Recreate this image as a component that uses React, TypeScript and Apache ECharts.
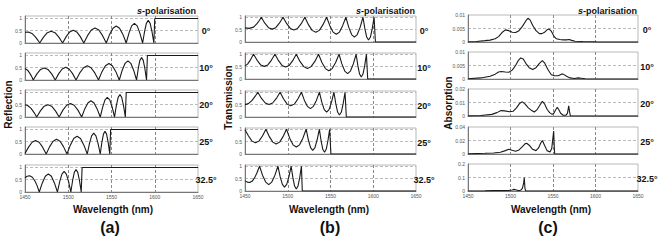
import React, { useEffect, useRef } from 'react';
import * as echarts from 'echarts';

// ---------- tick labels / categories ----------
const angleLabels = ['0°', '10°', '20°', '25°', '32.5°'];
const xTickLabels = ['1450', '1500', '1550', '1600', '1650'];
const yLabelsRT = ['0', '0.5', '1'];
const yLabelsAbs = [
  ['0', '0.005', '0.01'],
  ['0', '0.005', '0.01'],
  ['0', '0.01', '0.02'],
  ['0', '0.02', '0.04'],
  ['0', '0.1', '0.2'],
];
const absMax = [0.01, 0.01, 0.02, 0.04, 0.2];

// ---------- (a) Reflection ----------
const refl0 = [[1450,0.44],[1454,0.45],[1458,0.39],[1462,0.25],[1465,0.11],[1467,0],
[1471.4,0.24],[1475.8,0.42],[1480.2,0.48],[1484.7,0.42],[1489.1,0.24],[1493.5,0],
[1497.6,0.26],[1501.7,0.45],[1505.8,0.52],[1509.8,0.45],[1513.9,0.26],[1518,0],
[1522.3,0.3],[1526.7,0.53],[1531,0.61],[1535.3,0.53],[1539.7,0.3],[1544,0],
[1547.8,0.35],[1551.7,0.6],[1555.5,0.69],[1559.3,0.6],[1563.2,0.35],[1567,0],
[1570.2,0.4],[1573.3,0.7],[1576.5,0.8],[1579.7,0.7],[1582.8,0.4],[1586,0],
[1588.2,0.46],[1590.3,0.8],[1592.5,0.92],[1594.7,0.8],[1596.8,0.46],[1599,0],
[1600,1],[1650,1]];
const refl10 = [[1450,0.47],[1453,0.4],[1456,0.25],[1458,0.12],[1459.5,0],
[1463.8,0.25],[1468,0.43],[1472.2,0.49],[1476.5,0.43],[1480.8,0.25],[1485,0],
[1489,0.26],[1493,0.45],[1497,0.52],[1501,0.45],[1505,0.26],[1509,0],
[1513.3,0.29],[1517.7,0.5],[1522,0.58],[1526.3,0.5],[1530.7,0.29],[1535,0],
[1539,0.34],[1543,0.58],[1547,0.67],[1551,0.58],[1555,0.34],[1559,0],
[1562.3,0.39],[1565.7,0.68],[1569,0.78],[1572.3,0.68],[1575.7,0.39],[1579,0],
[1580.9,0.46],[1582.8,0.8],[1584.8,0.92],[1586.7,0.8],[1588.6,0.46],[1590.5,0],
[1591.5,1],[1650,1]];
const refl20 = [[1450,0.5],[1453,0.47],[1457,0.35],[1460.5,0.18],[1463.5,0],
[1467.8,0.25],[1472.2,0.44],[1476.5,0.5],[1480.8,0.44],[1485.2,0.25],[1489.5,0],
[1493.8,0.28],[1498.2,0.48],[1502.5,0.55],[1506.8,0.48],[1511.2,0.28],[1515.5,0],
[1519.1,0.33],[1522.7,0.57],[1526.2,0.66],[1529.8,0.57],[1533.4,0.33],[1537,0],
[1539.8,0.4],[1542.5,0.7],[1545.2,0.8],[1548,0.7],[1550.8,0.4],[1553.5,0],
[1555.6,0.46],[1557.7,0.8],[1559.8,0.92],[1561.8,0.8],[1563.9,0.46],[1566,0],
[1567,1],[1650,1]];
const refl25 = [[1450,0.02],[1454.1,0.28],[1458.2,0.48],[1462.2,0.55],[1466.3,0.48],[1470.4,0.28],[1474.5,0],
[1478.5,0.3],[1482.5,0.52],[1486.5,0.6],[1490.5,0.52],[1494.5,0.3],[1498.5,0],
[1502.4,0.36],[1506.3,0.63],[1510.2,0.72],[1514.2,0.63],[1518.1,0.36],[1522,0],
[1524.5,0.42],[1527,0.74],[1529.5,0.85],[1532,0.74],[1534.5,0.42],[1537,0],
[1538.8,0.46],[1540.7,0.81],[1542.5,0.93],[1544.3,0.81],[1546.2,0.46],[1548,0],
[1549,1],[1650,1]];
const refl32 = [[1450,0.58],[1452.5,0.64],[1455.5,0.66],[1458.5,0.6],[1461.5,0.45],[1464,0.26],[1466.5,0],
[1470,0.37],[1473.5,0.64],[1477,0.74],[1480.5,0.64],[1484,0.37],[1487.5,0],
[1490.1,0.42],[1492.7,0.73],[1495.2,0.84],[1497.8,0.73],[1500.4,0.42],[1503,0],
[1505,0.46],[1507,0.8],[1509,0.92],[1511,0.8],[1513,0.46],[1515,0],
[1516,1],[1650,1]];

// ---------- (b) Transmission ----------
const trans0 = [[1450,0.57],[1455,0.55],[1460,0.6],[1464,0.74],[1467,0.88],[1469,1],
[1473.2,0.76],[1477.5,0.58],[1481.8,0.52],[1486,0.58],[1490.2,0.76],[1494.5,1],
[1498.8,0.74],[1503,0.55],[1507.2,0.48],[1511.5,0.55],[1515.8,0.74],[1520,1],
[1524.2,0.7],[1528.5,0.47],[1532.8,0.39],[1537,0.47],[1541.2,0.7],[1545.5,1],
[1549.2,0.66],[1553,0.4],[1556.8,0.31],[1560.5,0.4],[1564.2,0.66],[1568,1],
[1571.3,0.6],[1574.7,0.3],[1578,0.2],[1581.3,0.3],[1584.7,0.6],[1588,1],
[1590.2,0.54],[1592.3,0.2],[1594.5,0.08],[1596.7,0.2],[1598.8,0.54],[1601,1],
[1602.5,0],[1650,0]];
const trans10 = [[1450,0.53],[1453,0.6],[1456,0.75],[1458,0.88],[1460,1],
[1464.2,0.755],[1468.3,0.57],[1472.5,0.51],[1476.7,0.57],[1480.8,0.755],[1485,1],
[1489.2,0.74],[1493.3,0.55],[1497.5,0.48],[1501.7,0.55],[1505.8,0.74],[1510,1],
[1514.3,0.71],[1518.7,0.5],[1523,0.42],[1527.3,0.5],[1531.7,0.71],[1536,1],
[1540,0.665],[1544,0.42],[1548,0.33],[1552,0.42],[1556,0.665],[1560,1],
[1563.3,0.61],[1566.7,0.32],[1570,0.22],[1573.3,0.32],[1576.7,0.61],[1580,1],
[1582,0.54],[1584,0.2],[1586,0.08],[1588,0.2],[1590,0.54],[1592,1],
[1593.5,0],[1650,0]];
const trans20 = [[1450,0.5],[1454,0.54],[1458,0.66],[1462,0.84],[1465,1],
[1469.3,0.75],[1473.7,0.565],[1478,0.5],[1482.3,0.565],[1486.7,0.75],[1491,1],
[1495.2,0.725],[1499.3,0.52],[1503.5,0.45],[1507.7,0.52],[1511.8,0.725],[1516,1],
[1519.5,0.67],[1523,0.43],[1526.5,0.34],[1530,0.43],[1533.5,0.67],[1537,1],
[1539.8,0.6],[1542.7,0.3],[1545.5,0.2],[1548.3,0.3],[1551.2,0.6],[1554,1],
[1556.2,0.54],[1558.3,0.2],[1560.5,0.08],[1562.7,0.2],[1564.8,0.54],[1567,1],
[1568.5,0],[1650,0]];
const trans25 = [[1450,0.98],[1454.1,0.725],[1458.2,0.52],[1462.2,0.45],[1466.3,0.52],[1470.4,0.725],[1474.5,1],
[1478.5,0.7],[1482.5,0.48],[1486.5,0.4],[1490.5,0.48],[1494.5,0.7],[1498.5,1],
[1502.3,0.64],[1506.2,0.37],[1510,0.28],[1513.8,0.37],[1517.7,0.64],[1521.5,1],
[1524.1,0.575],[1526.7,0.26],[1529.2,0.15],[1531.8,0.26],[1534.4,0.575],[1537,1],
[1539,0.535],[1541,0.19],[1543,0.07],[1545,0.19],[1547,0.535],[1549,1],
[1550.5,0],[1650,0]];
const trans32 = [[1450,0.42],[1452.5,0.36],[1455.5,0.34],[1458.5,0.4],[1461.5,0.55],[1464,0.74],[1467,1],
[1470.6,0.63],[1474.2,0.36],[1477.8,0.26],[1481.3,0.36],[1484.9,0.63],[1488.5,1],
[1491.1,0.58],[1493.7,0.27],[1496.2,0.16],[1498.8,0.27],[1501.4,0.58],[1504,1],
[1506,0.54],[1508,0.2],[1510,0.08],[1512,0.2],[1514,0.54],[1516,1],
[1517,0],[1650,0]];

// ---------- (c) Absorption ----------
const abs0 = [[1450,0.0001],[1460,0.0002],[1470,0.0005],[1476,0.0007],[1482,0.0012],[1486,0.002],
[1490,0.0035],[1494,0.0045],[1498,0.0042],[1502,0.0036],[1506,0.0035],[1510,0.0042],[1514,0.0058],
[1518,0.0078],[1520.5,0.0088],[1523,0.0082],[1526,0.0062],[1530,0.0042],[1534,0.0031],[1537,0.0031],
[1540,0.0036],[1543,0.0045],[1545.5,0.0048],[1548,0.004],[1551,0.0022],[1554,0.0012],[1558,0.0009],
[1562,0.0008],[1566,0.0008],[1569,0.0009],[1572,0.0006],[1576,0.0003],[1585,0.0002],[1600,0.0001],
[1601,0],[1650,0]];
const abs10 = [[1450,0.0001],[1465,0.0004],[1476,0.001],[1482,0.0018],[1486,0.0026],[1489,0.0028],
[1494,0.0026],[1498,0.0025],[1502,0.0033],[1506,0.005],[1509,0.0068],[1512,0.0078],[1515,0.0074],
[1518,0.0058],[1522,0.0042],[1526,0.0035],[1530,0.0042],[1534,0.0058],[1537.5,0.0068],[1540,0.006],
[1544,0.0035],[1548,0.0016],[1552,0.0012],[1556,0.0012],[1560,0.0018],[1562,0.0018],[1566,0.001],
[1570,0.0004],[1575,0.0002],[1580,0.0004],[1583,0.0003],[1588,0.0001],[1592,0],[1650,0]];
const abs20 = [[1450,0.0001],[1465,0.0004],[1478,0.0012],[1484,0.0025],[1489,0.004],[1493,0.0038],
[1499,0.0032],[1503,0.0035],[1507,0.006],[1511,0.0095],[1514,0.0105],[1517,0.009],[1521,0.006],
[1525,0.004],[1528,0.003],[1531,0.0045],[1534.5,0.008],[1537.5,0.0108],[1540,0.009],[1543,0.005],
[1546,0.0025],[1549,0.0012],[1551,0.002],[1553,0.0045],[1555,0.0065],[1557,0.0045],[1559,0.002],
[1562,0.0006],[1565,0.0005],[1567,0.002],[1568.5,0.0075],[1569.5,0.003],[1570.5,0],[1650,0]];
const abs25 = [[1450,0.0002],[1470,0.001],[1480,0.0015],[1488,0.0025],[1494,0.005],[1498,0.007],
[1502,0.0055],[1506,0.0042],[1510,0.006],[1514,0.011],[1517,0.015],[1519,0.016],[1522,0.013],
[1526,0.007],[1530,0.005],[1533,0.009],[1535.5,0.016],[1537.5,0.02],[1540,0.013],[1543,0.005],
[1546.5,0.003],[1548.5,0.008],[1550,0.025],[1550.8,0.034],[1551.5,0.01],[1552,0],[1650,0]];
const abs32 = [[1450,0],[1470,0.001],[1480,0.003],[1486,0.004],[1492,0.003],[1498,0.004],[1502,0.008],
[1504,0.012],[1506,0.009],[1509,0.003],[1512,0.006],[1514,0.02],[1515.5,0.06],[1516.2,0.1],
[1517,0.02],[1518,0],[1650,0]];

const reflSeries = [refl0, refl10, refl20, refl25, refl32];
const transSeries = [trans0, trans10, trans20, trans25, trans32];
const absSeries = [abs0, abs10, abs20, abs25, abs32];

// ---------- layout ----------
const FONT = '"Liberation Sans", Arial, sans-serif';
const LEFT = [25, 245, 468];
const WIDTH = [173, 171, 170];
const TOPS = [
  [16, 53, 90, 127, 165],
  [16, 53, 91, 128, 165],
  [15, 52, 89, 127, 164],
];
const HEIGHT = [27, 26, 27];

export default function App() {
  const ref = useRef<HTMLDivElement>(null);

  useEffect(() => {
    if (!ref.current) return;
    const chart = echarts.init(ref.current, undefined, { renderer: 'svg' });

    const grids: any[] = [];
    const xAxes: any[] = [];
    const yAxes: any[] = [];
    const series: any[] = [];
    const panelData = [reflSeries, transSeries, absSeries];

    for (let p = 0; p < 3; p++) {
      for (let r = 0; r < 5; r++) {
        const idx = p * 5 + r;
        grids.push({
          left: LEFT[p], top: TOPS[p][r], width: WIDTH[p], height: HEIGHT[p],
          show: true, borderColor: '#b8b8b8', borderWidth: 1, backgroundColor: 'transparent',
        });
        xAxes.push({
          type: 'value', gridIndex: idx, min: 1450, max: 1650, interval: 50,
          axisLine: { show: true, lineStyle: { color: '#777', width: 1 } },
          axisTick: { show: false },
          axisLabel: {
            show: r === 4, fontSize: 5, color: '#555', margin: 2, fontFamily: FONT,
            formatter: (_v: number, i: number) => xTickLabels[i] ?? '',
          },
          splitLine: {
            show: true, showMinLine: false, showMaxLine: false,
            lineStyle: { color: '#888', type: [3, 2], width: 1 },
          },
        });
        const isAbs = p === 2;
        const yMax = isAbs ? absMax[r] : p === 0 ? 1.1 : 1.05;
        const yInt = isAbs ? absMax[r] / 2 : 0.5;
        const labels = isAbs ? yLabelsAbs[r] : yLabelsRT;
        yAxes.push({
          type: 'value', gridIndex: idx, min: 0, max: yMax, interval: yInt,
          axisLine: { show: true, onZero: false, lineStyle: { color: '#777', width: 1 } },
          axisTick: { show: false },
          axisLabel: {
            fontSize: 5, color: '#555', margin: 3, fontFamily: FONT,
            formatter: (_v: number, i: number) => labels[i] ?? '',
          },
          splitLine: {
            show: true, showMinLine: false, showMaxLine: false,
            lineStyle: { color: '#bbb', type: [3, 2], width: 1 },
          },
        });
        series.push({
          type: 'line', xAxisIndex: idx, yAxisIndex: idx,
          data: panelData[p][r], showSymbol: false, symbol: 'none',
          lineStyle: { color: '#1a1a1a', width: 1.1 }, clip: true, silent: true,
        });
      }
    }

    const graphic: any[] = [];
    const titleX = [196, 415, 637];
    const angleX = [206, 424, 647];
    const yTitles = ['Reflection', 'Transmission', 'Absorption'];
    const yTitleX = [8, 228.5, 448.5];
    const yTitleY = [104.5, 97.5, 103];
    const xTitleX = [113, 329, 551];
    const letterX = [110, 330, 548];
    const letters = ['(a)', '(b)', '(c)'];

    for (let p = 0; p < 3; p++) {
      graphic.push({
        type: 'text', x: titleX[p], y: 10.5,
        style: {
          text: '{i|s}-polarisation', fontSize: 9, fontWeight: 'bold', fontFamily: FONT,
          fill: '#111', align: 'right', verticalAlign: 'middle',
          rich: { i: { fontStyle: 'italic', fontWeight: 'bold', fontSize: 9, fontFamily: FONT, fill: '#111' } },
        },
      });
      for (let r = 0; r < 5; r++) {
        graphic.push({
          type: 'text', x: angleX[p], y: TOPS[p][r] + 14.5,
          style: {
            text: angleLabels[r], fontSize: 9, fontWeight: 'bold', fontFamily: FONT,
            fill: '#111', align: 'center', verticalAlign: 'middle',
          },
        });
      }
      graphic.push({
        type: 'text', x: yTitleX[p], y: yTitleY[p], rotation: Math.PI / 2,
        style: {
          text: yTitles[p], fontSize: 10, fontWeight: 'bold', fontFamily: FONT,
          fill: '#111', align: 'center', verticalAlign: 'middle',
        },
      });
      graphic.push({
        type: 'text', x: xTitleX[p], y: 209,
        style: {
          text: 'Wavelength (nm)', fontSize: 10, fontWeight: 'bold', fontFamily: FONT,
          fill: '#111', align: 'center', verticalAlign: 'middle',
        },
      });
      graphic.push({
        type: 'text', x: letterX[p], y: 227,
        style: {
          text: letters[p], fontSize: 16, fontWeight: 'bold', fontFamily: FONT,
          fill: '#111', align: 'center', verticalAlign: 'middle',
        },
      });
    }

    chart.setOption({
      animation: false,
      backgroundColor: '#fff',
      grid: grids,
      xAxis: xAxes,
      yAxis: yAxes,
      series,
      graphic,
    });

    return () => chart.dispose();
  }, []);

  return (
    <div
      ref={ref}
      style={{ position: 'fixed', left: 0, top: 0, width: 664, height: 248, background: '#fff' }}
    />
  );
}
